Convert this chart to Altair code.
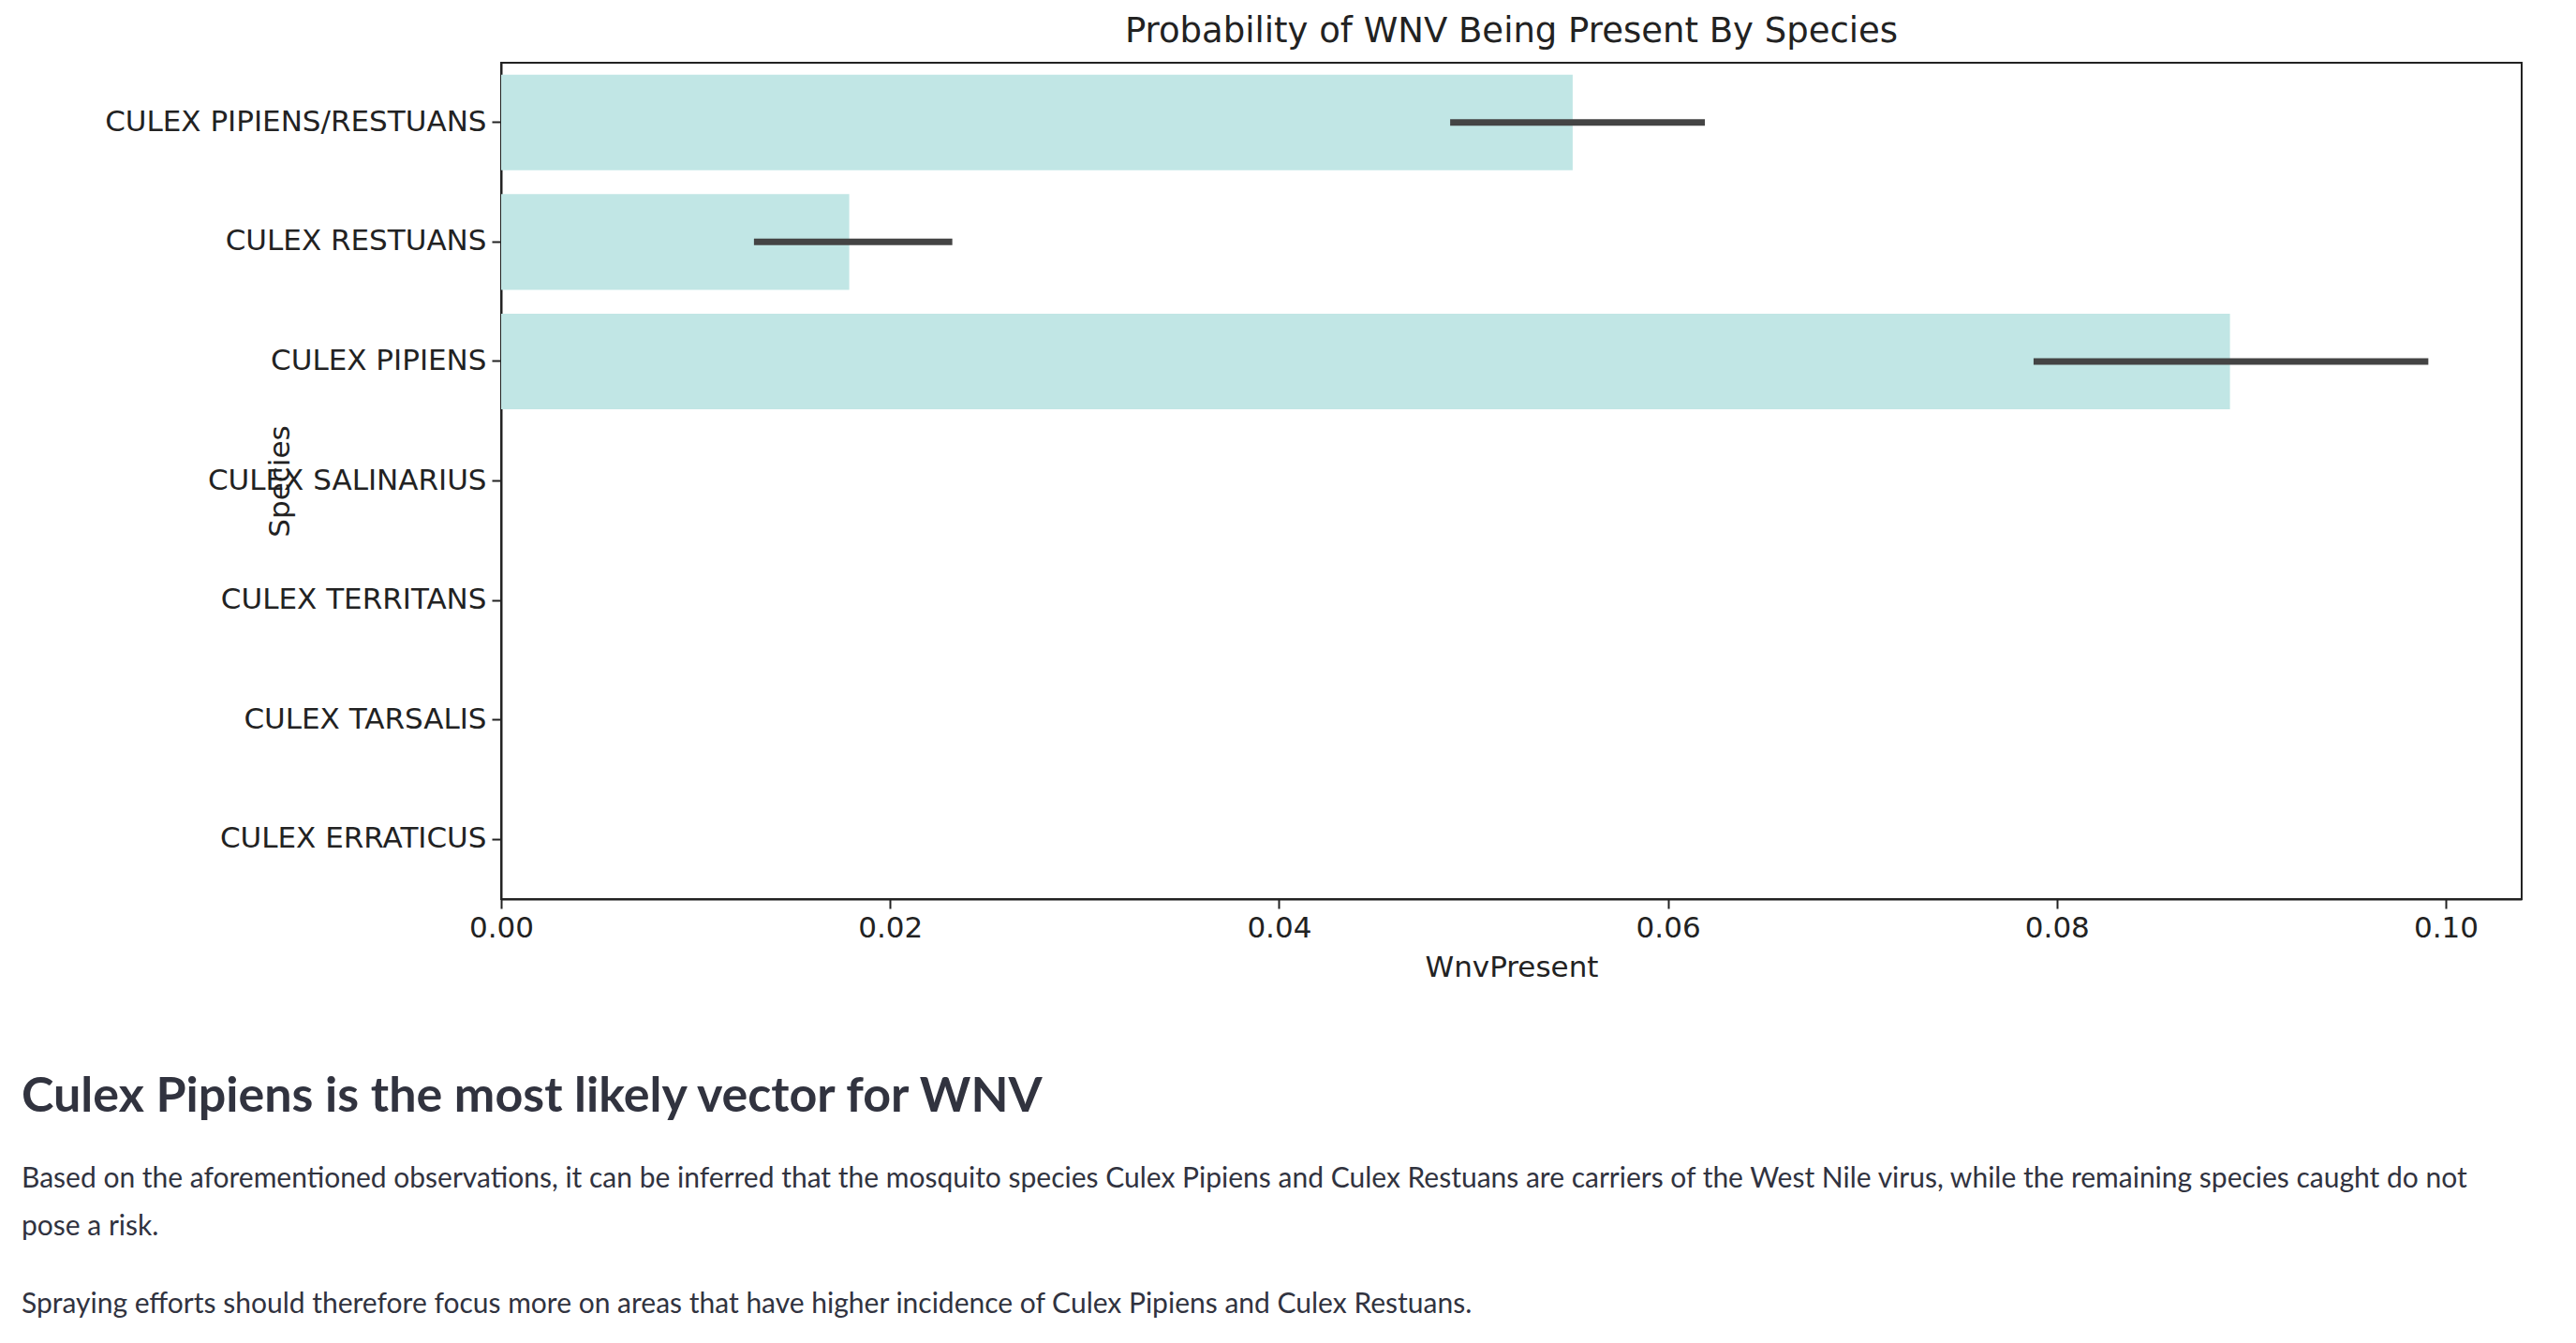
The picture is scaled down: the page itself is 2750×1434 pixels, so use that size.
import pandas as pd
import altair as alt

species = ['CULEX PIPIENS/RESTUANS', 'CULEX RESTUANS', 'CULEX PIPIENS', 'CULEX SALINARIUS',
           'CULEX TERRITANS', 'CULEX TARSALIS', 'CULEX ERRATICUS']
mean_wnv = [0.0551, 0.0179, 0.0889, 0.0, 0.0, 0.0, 0.0]
ci_low = [0.0488, 0.0130, 0.0788, 0.0, 0.0, 0.0, 0.0]
ci_high = [0.0619, 0.0232, 0.0991, 0.0, 0.0, 0.0, 0.0]

heading = 'Culex Pipiens is the most likely vector for WNV'
para_lines = [
    'Based on the aforementioned observations, it can be inferred that the mosquito species Culex Pipiens and Culex Restuans are carriers of the West Nile virus, while the remaining species caught do not',
    'pose a risk.',
    'Spraying efforts should therefore focus more on areas that have higher incidence of Culex Pipiens and Culex Restuans.',
]

df = pd.DataFrame({'Species': species, 'WnvPresent': mean_wnv, 'lo': ci_low, 'hi': ci_high})
err = df[df['hi'] > 0]

W, H = 2157, 893
ysc = alt.Scale(domain=species, paddingInner=0.2, paddingOuter=0.1)
xsc = alt.Scale(domain=[0, 0.1039], nice=False, zero=True)

bars = alt.Chart(df).mark_bar(color='#c1e6e5').encode(
    x=alt.X('WnvPresent:Q', scale=xsc,
            axis=alt.Axis(format='.2f', values=[0, 0.02, 0.04, 0.06, 0.08, 0.10], grid=False,
                          labelFlush=False, title='WnvPresent')),
    y=alt.Y('Species:N', sort=species, scale=ysc, axis=alt.Axis(title='Species', labelLimit=600)),
)

errs = alt.Chart(err).mark_rule(color='#444444', strokeWidth=7).encode(
    x=alt.X('lo:Q', scale=xsc), x2='hi:Q',
    y=alt.Y('Species:N', sort=species, scale=ysc, bandPosition=0.5),
)

head = alt.Chart(pd.DataFrame({'t': [heading]})).mark_text(
    align='left', baseline='middle', font='Lato', fontSize=52, fontWeight='bold', color='#31333F'
).encode(text='t:N', x=alt.value(-512), y=alt.value(1104))

para = alt.Chart(pd.DataFrame({'t': para_lines, 'yy': [1192, 1243, 1326]})).mark_text(
    align='left', baseline='middle', font='Lato', fontSize=30, color='#31333F'
).encode(text='t:N', x=alt.value(-512), y=alt.Y('yy:Q', scale=None))

chart = (bars + errs + head + para).properties(
    width=W, height=H,
    autosize=alt.AutoSizeParams(type='none'),
    padding={'left': 527, 'top': 59, 'right': 20, 'bottom': 470},
    title=alt.Title('Probability of WNV Being Present By Species', font='DejaVu Sans',
                    fontSize=37, fontWeight='normal', color='#222222', offset=14),
).configure_view(stroke='#222222', strokeWidth=2).configure_axis(
    labelFont='DejaVu Sans', titleFont='DejaVu Sans', labelFontSize=31, titleFontSize=31,
    titleFontWeight='normal', labelColor='#222222', titleColor='#222222',
    domainColor='#222222', tickColor='#222222', tickSize=10, tickWidth=2, domainWidth=2,
    labelPadding=6,
).configure_axisY(titlePadding=20).configure_axisX(titlePadding=12)

chart.save('out.html', embed_options={'renderer': 'svg', 'actions': False})
